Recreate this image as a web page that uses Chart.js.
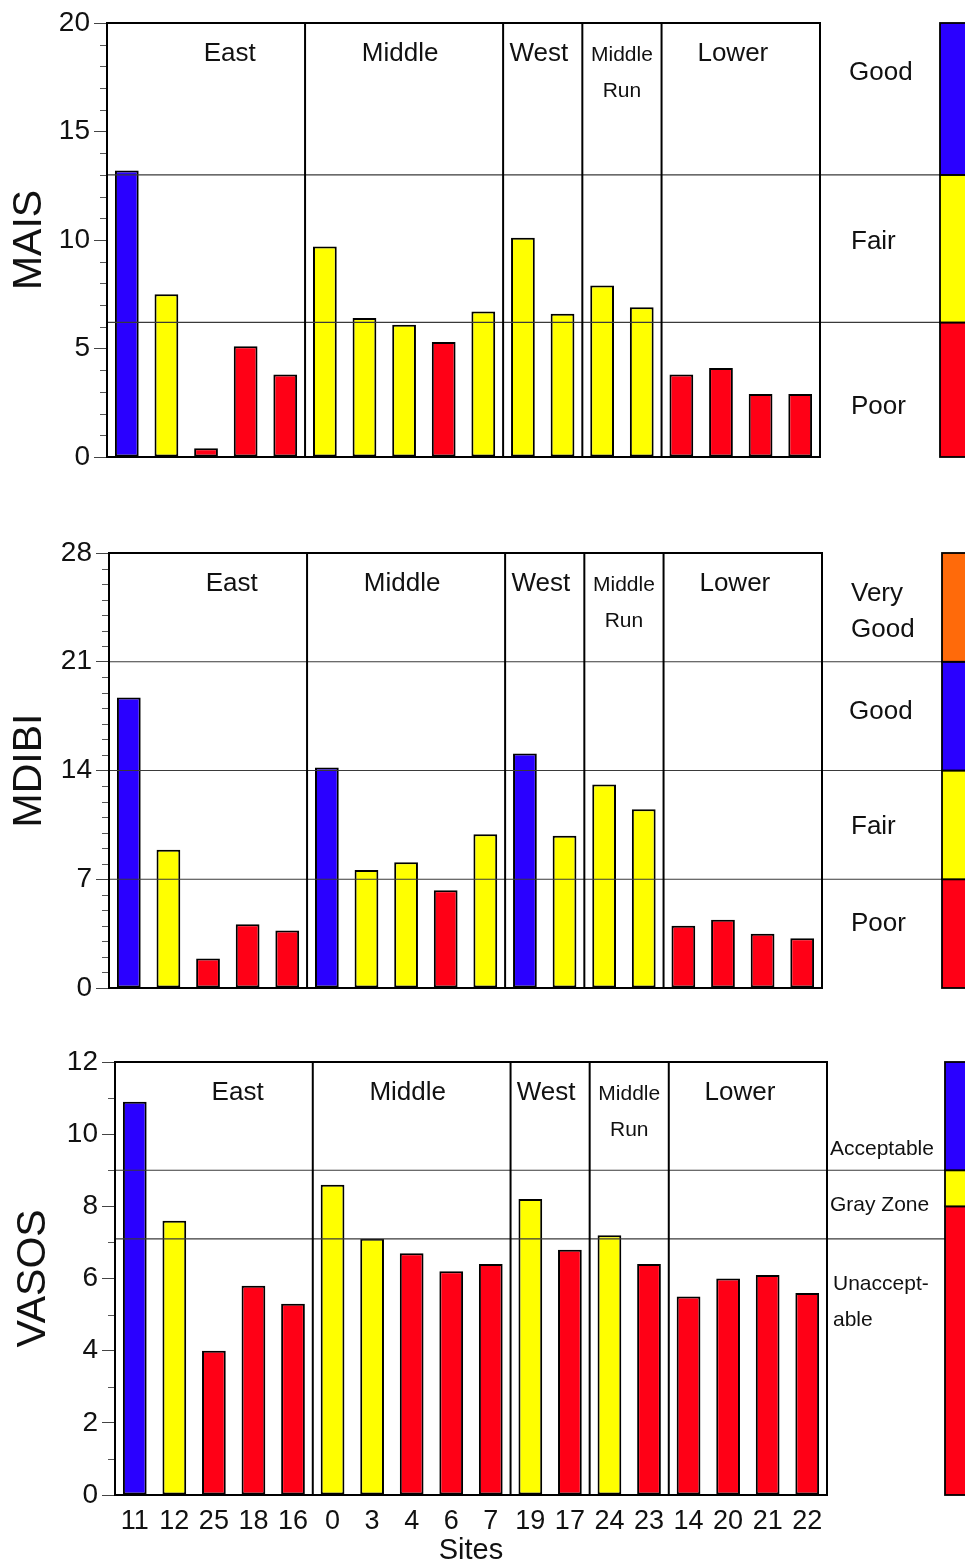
<!DOCTYPE html>
<html>
<head>
<meta charset="utf-8">
<script src="https://cdn.jsdelivr.net/npm/chart.js@4.4.0/dist/chart.umd.min.js"></script>
<style>
  body { margin: 0; background: #fff; }
  canvas { position: absolute; left: 0; }
</style>
</head>
<body>
<canvas id="mais" width="965" height="500" style="top:0px"></canvas>
<canvas id="mdibi" width="965" height="510" style="top:500px"></canvas>
<canvas id="vasos" width="965" height="558" style="top:1010px"></canvas>
<script>
// sites, in river order
const sites = ['11', '12', '25', '18', '16', '0', '3', '4', '6', '7', '19', '17', '24', '23', '14', '20', '21', '22'];
const regions = ['East', 'Middle', 'West', 'Middle\nRun', 'Lower'];
const regionStarts = [0, 5, 10, 12, 14];

const maisValues = [13.2, 7.5, 0.4, 5.1, 3.8, 9.7, 6.4, 6.1, 5.3, 6.7, 10.1, 6.6, 7.9, 6.9, 3.8, 4.1, 2.9, 2.9];
const maisRatings = ['good', 'fair', 'poor', 'poor', 'poor', 'fair', 'fair', 'fair', 'poor', 'fair', 'fair', 'fair', 'fair', 'fair', 'poor', 'poor', 'poor', 'poor'];
const maisCuts = [6.2, 13];
const maisBandEdges = [0, 6.2, 13, 20];
const maisBandRatings = ['poor', 'fair', 'good'];
const maisZoneNames = ['Good', 'Fair', 'Poor'];

const mdibiValues = [18.7, 8.9, 1.9, 4.1, 3.7, 14.2, 7.6, 8.1, 6.3, 9.9, 15.1, 9.8, 13.1, 11.5, 4.0, 4.4, 3.5, 3.2];
const mdibiRatings = ['good', 'fair', 'poor', 'poor', 'poor', 'good', 'fair', 'fair', 'poor', 'fair', 'good', 'fair', 'fair', 'fair', 'poor', 'poor', 'poor', 'poor'];
const mdibiCuts = [7, 14, 21];
const mdibiBandEdges = [0, 7, 14, 21, 28];
const mdibiBandRatings = ['poor', 'fair', 'good', 'verygood'];
const mdibiZoneNames = ['Very\nGood', 'Good', 'Fair', 'Poor'];

const vasosValues = [10.9, 7.6, 4.0, 5.8, 5.3, 8.6, 7.1, 6.7, 6.2, 6.4, 8.2, 6.8, 7.2, 6.4, 5.5, 6.0, 6.1, 5.6];
const vasosRatings = ['good', 'fair', 'poor', 'poor', 'poor', 'fair', 'fair', 'poor', 'poor', 'poor', 'fair', 'poor', 'fair', 'poor', 'poor', 'poor', 'poor', 'poor'];
const vasosCuts = [7.1, 9];
const vasosBandEdges = [0, 8, 9, 12];
const vasosBandRatings = ['poor', 'fair', 'good'];
const vasosZoneNames = ['Acceptable', 'Gray Zone', 'Unaccept-\nable'];

const colors = { good: '#2a00ff', fair: '#ffff00', poor: '#ff0016', verygood: '#ff6a0a' };
const FONT = "'Liberation Sans', Arial, Helvetica, sans-serif";

// where region names sit, in category widths from the left edge
const regionLabelPos = [3.1, 7.4, 10.9, 13.0, 15.8];

function line(ctx, x1, y1, x2, y2) {
  ctx.beginPath(); ctx.moveTo(x1, y1); ctx.lineTo(x2, y2); ctx.stroke();
}

const panelDecor = {
  id: 'panelDecor',
  afterDatasetsDraw(chart, args, o) {
    const { ctx, chartArea: a, scales: { x, y } } = chart;
    ctx.save();

    // minor ticks every unit
    ctx.strokeStyle = '#555';
    ctx.lineWidth = 1;
    for (let v = y.min; v <= y.max; v++) {
      if (v % o.major === 0) continue;
      const py = Math.round(y.getPixelForValue(v)) + 0.5;
      line(ctx, a.left - 7, py, a.left, py);
    }

    // rating thresholds, out to the colour bar
    ctx.strokeStyle = '#3a3a3a';
    ctx.lineWidth = 1.2;
    o.cuts.forEach(c => {
      const py = y.getPixelForValue(c);
      line(ctx, a.left, py, o.barX, py);
    });

    // region dividers and frame
    ctx.strokeStyle = '#000';
    ctx.lineWidth = 2;
    regionStarts.slice(1).forEach(i => {
      const px = (x.getPixelForValue(i - 1) + x.getPixelForValue(i)) / 2;
      line(ctx, px, a.top, px, a.bottom);
    });
    ctx.strokeRect(a.left, a.top, a.right - a.left, a.bottom - a.top);

    // region names
    ctx.fillStyle = '#111';
    ctx.textAlign = 'center';
    ctx.textBaseline = 'middle';
    const cw = (a.right - a.left) / sites.length;
    regions.forEach((r, i) => {
      const px = a.left + regionLabelPos[i] * cw;
      const parts = r.split('\n');
      if (parts.length > 1) {
        ctx.font = '21px ' + FONT;
        ctx.fillText(parts[0], px, a.top + 32);
        ctx.fillText(parts[1], px, a.top + 68);
      } else {
        ctx.font = '26px ' + FONT;
        ctx.fillText(r, px, a.top + 31);
      }
    });

    // colour bar
    ctx.lineWidth = 1.8;
    o.bandRatings.forEach((b, i) => {
      const y0 = y.getPixelForValue(o.bandEdges[i]);
      const y1 = y.getPixelForValue(o.bandEdges[i + 1]);
      ctx.fillStyle = colors[b];
      ctx.fillRect(o.barX, y1, 40, y0 - y1);
      ctx.strokeRect(o.barX, y1, 40, y0 - y1);
    });

    // zone names
    ctx.fillStyle = '#111';
    ctx.textAlign = 'left';
    ctx.font = o.zoneFont + 'px ' + FONT;
    o.zoneNames.forEach((n, i) => {
      const py = y.getPixelForValue(o.zoneAt[i]);
      n.split('\n').forEach((s, k) => ctx.fillText(s, a.right + o.zoneDx[i], py + k * 36));
    });

    ctx.restore();
  }
};

function makePanel(id, cfg) {
  const showX = !!cfg.showX;
  return new Chart(document.getElementById(id), {
    type: 'bar',
    data: {
      labels: sites,
      datasets: [{
        data: cfg.values,
        backgroundColor: cfg.ratings.map(r => colors[r]),
        borderColor: '#000',
        borderWidth: 2,
        borderSkipped: false,
        barPercentage: 0.6,
        categoryPercentage: 1.0
      }]
    },
    options: {
      responsive: false,
      animation: false,
      layout: { padding: cfg.padding },
      plugins: {
        legend: { display: false },
        tooltip: { enabled: false },
        panelDecor: cfg.decor
      },
      scales: {
        x: {
          display: showX,
          grid: { display: false, drawTicks: false },
          border: { display: false },
          ticks: { font: { family: FONT, size: 27 }, color: '#111', padding: 10, maxRotation: 0, autoSkip: false },
          title: { display: showX, text: 'Sites', color: '#111', font: { family: FONT, size: 29 }, padding: { top: 0, bottom: 0 } },
          afterFit: s => { if (showX) s.height = cfg.xHeight; }
        },
        y: {
          min: 0,
          max: cfg.max,
          ticks: { stepSize: cfg.decor.major, font: { family: FONT, size: 28 }, color: '#111', padding: 4 },
          grid: { drawOnChartArea: false, tickLength: 13, tickColor: '#444', lineWidth: 1 },
          border: { display: false },
          title: { display: true, text: cfg.title, color: '#111', font: { family: FONT, size: 41 }, padding: { top: cfg.titlePad, bottom: 0 } },
          afterFit: s => { s.width = cfg.left; }
        }
      }
    },
    plugins: [panelDecor]
  });
}

makePanel('mais', {
  values: maisValues, ratings: maisRatings, max: 20, title: 'MAIS', left: 107, titlePad: 5,
  padding: { top: 23, right: 145, bottom: 43, left: 0 },
  decor: {
    major: 5, cuts: maisCuts, bandEdges: maisBandEdges, bandRatings: maisBandRatings, barX: 940,
    zoneNames: maisZoneNames, zoneAt: [17.7, 9.9, 2.3], zoneDx: [29, 31, 31], zoneFont: 26
  }
});

makePanel('mdibi', {
  values: mdibiValues, ratings: mdibiRatings, max: 28, title: 'MDIBI', left: 109, titlePad: 5,
  padding: { top: 53, right: 143, bottom: 22, left: 0 },
  decor: {
    major: 7, cuts: mdibiCuts, bandEdges: mdibiBandEdges, bandRatings: mdibiBandRatings, barX: 942,
    zoneNames: mdibiZoneNames, zoneAt: [25.35, 17.8, 10.4, 4.1], zoneDx: [29, 27, 29, 29], zoneFont: 26
  }
});

makePanel('vasos', {
  values: vasosValues, ratings: vasosRatings, max: 12, title: 'VASOS', left: 115, titlePad: 9,
  padding: { top: 52, right: 138, bottom: 0, left: 0 }, showX: true, xHeight: 73,
  decor: {
    major: 2, cuts: vasosCuts, bandEdges: vasosBandEdges, bandRatings: vasosBandRatings, barX: 945,
    zoneNames: vasosZoneNames, zoneAt: [9.59, 8.04, 5.85], zoneDx: [3, 3, 6], zoneFont: 21
  }
});
</script>
</body>
</html>
